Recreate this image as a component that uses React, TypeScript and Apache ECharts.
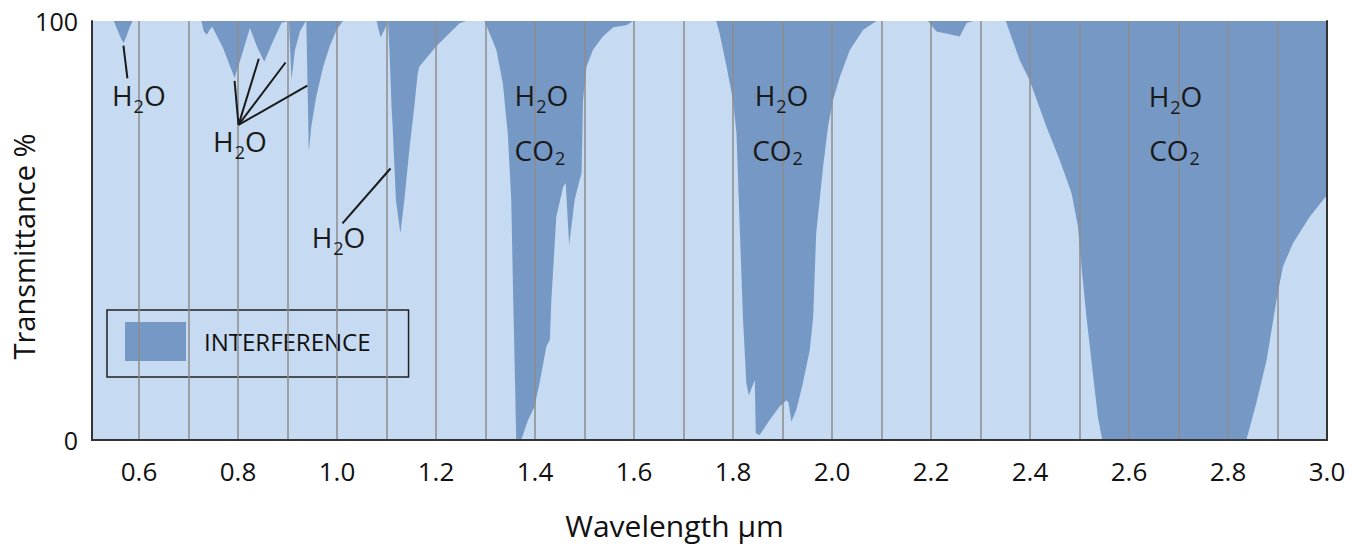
import React, { useEffect, useRef } from "react";
import * as echarts from "echarts";

// Wavelength range (μm) and transmittance range (%)
const X_MIN = 0.505;
const X_MAX = 3.0;

// Transmittance curve: [wavelength μm, transmittance %]
const transmittance: [number, number][] = [
  [0.505, 100], [0.549, 100], [0.556, 98], [0.563, 96], [0.569, 94.7], [0.575, 96.5], [0.581, 98.5], [0.587, 100],
  [0.726, 100], [0.731, 97.5], [0.737, 96.7], [0.743, 98], [0.748, 98.6], [0.770, 93.5], [0.793, 86.4], [0.808, 92],
  [0.824, 98.3], [0.838, 94], [0.853, 90.3], [0.870, 95], [0.888, 99.6], [0.903, 100], [0.908, 86], [0.915, 93],
  [0.925, 97.5], [0.935, 99.6], [0.938, 100], [0.943, 68.8], [0.948, 74.8], [0.958, 81.9], [0.972, 89.1],
  [0.985, 93.9], [0.999, 97.9], [1.012, 100],
  [1.080, 100], [1.084, 98], [1.088, 96.1], [1.094, 97.5], [1.100, 99], [1.103, 100], [1.106, 93], [1.110, 80],
  [1.113, 73.2], [1.119, 57.3], [1.128, 49.3], [1.136, 57.3], [1.146, 69.2], [1.156, 79.5], [1.163, 87.5],
  [1.166, 89.1], [1.200, 93.9], [1.247, 99.4], [1.260, 100],
  [1.298, 100], [1.322, 93.1], [1.335, 85.1], [1.345, 73.2], [1.352, 57.3], [1.356, 33.4], [1.359, 17.5],
  [1.362, 0], [1.372, 0], [1.386, 4.8], [1.399, 8], [1.409, 13.5], [1.423, 22.3], [1.430, 24], [1.433, 33.4],
  [1.443, 53.3], [1.457, 60.5], [1.462, 61.3], [1.469, 46.5], [1.480, 57.3], [1.490, 62], [1.494, 63.6],
  [1.497, 81.1], [1.504, 89.1], [1.517, 93.1], [1.537, 96.3], [1.558, 98.5], [1.585, 99], [1.598, 100],
  [1.766, 100], [1.773, 97], [1.787, 89.1], [1.800, 81.1], [1.807, 73.2], [1.814, 49.3], [1.820, 29.4],
  [1.827, 13.5], [1.832, 10.7], [1.844, 14.3], [1.846, 1.6], [1.854, 1.2], [1.874, 4.8], [1.894, 8],
  [1.908, 9.5], [1.912, 9], [1.918, 4.4], [1.928, 7.2], [1.941, 13.5], [1.955, 21.5], [1.962, 29.4],
  [1.968, 49.3], [1.982, 65.2], [1.992, 74.8], [2.002, 81.1], [2.016, 86.7], [2.036, 93.1], [2.063, 97.9],
  [2.090, 100],
  [2.194, 100], [2.211, 97.5], [2.235, 96.9], [2.258, 96.3], [2.272, 99.5], [2.285, 100],
  [2.351, 100], [2.379, 90.7], [2.399, 85.9], [2.433, 74.8], [2.460, 66.8], [2.484, 58.9], [2.497, 50.9],
  [2.504, 41.4], [2.514, 29.4], [2.527, 15.9], [2.537, 5.6], [2.546, 0], [2.837, 0], [2.857, 8.7],
  [2.878, 19.1], [2.898, 33.4], [2.911, 41.4], [2.931, 46.9], [2.965, 53.3], [3.0, 58.5],
];

// Full-height interference band (everything above the transmittance curve)
const interference: [number, number][] = [
  [0.505, 100],
  [3.0, 100],
];

// Tick labels and grid lines
const xTickLabels = [0.6, 0.8, 1.0, 1.2, 1.4, 1.6, 1.8, 2.0, 2.2, 2.4, 2.6, 2.8, 3.0];
const xGridLines = [
  0.6, 0.7, 0.8, 0.9, 1.0, 1.1, 1.2, 1.3, 1.4, 1.5, 1.6, 1.7, 1.8, 1.9, 2.0, 2.1, 2.2, 2.3, 2.4, 2.5, 2.6, 2.7,
  2.8, 2.9,
];
const yTickLabels = [0, 100];

// Absorber annotations: [label kind, wavelength, transmittance]
const annotationLabels: [string, number, number][] = [
  ["H2O", 0.5996, 80.7],
  ["H2O", 0.8038, 69.7],
  ["H2O", 1.003, 46.8],
  ["H2O", 1.413, 80.6],
  ["CO2", 1.41, 67.6],
  ["H2O", 1.898, 80.6],
  ["CO2", 1.89, 67.6],
  ["H2O", 2.694, 80.5],
  ["CO2", 2.692, 67.6],
];

// Leader lines: [from, to] in data coordinates
const leaderLines: [[number, number], [number, number]][] = [
  [[0.5685, 94.1], [0.5766, 86.3]],
  [[0.801, 75.2], [0.793, 85.7]],
  [[0.801, 75.2], [0.842, 91.0]],
  [[0.801, 75.2], [0.896, 90.1]],
  [[0.801, 75.2], [0.94, 84.6]],
  [[1.011, 51.7], [1.108, 64.8]],
];

const LIGHT = "#c6daf1";
const DARK = "#7598c5";
const FONT = "'Open Sans', 'Noto Sans', sans-serif";

export default function App() {
  const ref = useRef<HTMLDivElement>(null);

  useEffect(() => {
    if (!ref.current) return;
    const chart = echarts.init(ref.current, undefined, { renderer: "svg" });

    const rich = {
      m: { fontSize: 28, lineHeight: 42, verticalAlign: "top", color: "#1a1a1a", fontFamily: FONT },
      s: { fontSize: 18, lineHeight: 18, verticalAlign: "top", color: "#1a1a1a", fontFamily: FONT, padding: [16, 0, 0, 1] },
      c: { fontSize: 18, lineHeight: 18, verticalAlign: "top", color: "#1a1a1a", fontFamily: FONT, padding: [13, 0, 0, 1] },
    };

    const option: any = {
      animation: false,
      textStyle: { fontFamily: FONT },
      grid: { left: 92, right: 30, top: 21, bottom: 108, containLabel: false, outerBoundsMode: "none" },
      legend: {
        data: [{ name: "INTERFERENCE", icon: "rect" }],
        left: 107,
        top: 310,
        orient: "horizontal",
        itemWidth: 61,
        itemHeight: 39,
        padding: [12, 38, 16, 18],
        backgroundColor: LIGHT,
        borderColor: "#222",
        borderWidth: 1.5,
        borderRadius: 0,
        selectedMode: false,
        textStyle: { fontSize: 24, color: "#111", fontFamily: FONT, padding: [0, 0, 0, 13] },
      },
      xAxis: [
        {
          type: "value",
          min: X_MIN,
          max: X_MAX,
          z: 5,
          name: "Wavelength μm",
          nameLocation: "middle",
          nameGap: 70,
          nameMoveOverlap: false,
          nameTextStyle: { fontSize: 30, color: "#111", fontFamily: FONT, padding: [0, 70, 0, 0] },
          axisLine: { show: true, lineStyle: { color: "#333", width: 2 } },
          axisTick: { show: false },
          splitLine: { show: false },
          axisLabel: {
            customValues: xTickLabels,
            formatter: (v: number) => v.toFixed(1),
            fontSize: 26,
            color: "#111",
            margin: 18,
            showMinLabel: true,
            showMaxLabel: true,
          },
        },
        {
          type: "value",
          position: "top",
          min: X_MIN,
          max: X_MAX,
          z: 5,
          axisLine: { show: true, lineStyle: { color: "#333", width: 2 } },
          axisTick: { show: false },
          axisLabel: { show: false },
          splitLine: { show: false },
        },
      ],
      yAxis: [
        {
          type: "value",
          min: 0,
          max: 100,
          interval: 100,
          z: 5,
          name: "Transmittance %",
          nameLocation: "middle",
          nameGap: 54,
          nameMoveOverlap: false,
          nameTextStyle: { fontSize: 29, color: "#111", fontFamily: FONT, padding: [0, 32, 0, 0] },
          axisLine: { show: true, lineStyle: { color: "#333", width: 2 } },
          axisTick: { show: false },
          splitLine: { show: false },
          axisLabel: {
            customValues: yTickLabels,
            fontSize: 25,
            color: "#111",
            margin: 14,
          },
        },
        {
          type: "value",
          position: "right",
          min: 0,
          max: 100,
          z: 5,
          axisLine: { show: true, lineStyle: { color: "#333", width: 2 } },
          axisTick: { show: false },
          axisLabel: { show: false },
          splitLine: { show: false },
        },
      ],
      series: [
        {
          name: "INTERFERENCE",
          type: "line",
          data: interference,
          showSymbol: false,
          symbol: "none",
          silent: true,
          z: 1,
          color: DARK,
          itemStyle: { color: DARK },
          lineStyle: { width: 0, color: DARK },
          areaStyle: { color: DARK, opacity: 1 },
        },
        {
          name: "Transmittance",
          type: "line",
          data: transmittance,
          showSymbol: false,
          symbol: "none",
          silent: true,
          z: 2,
          color: LIGHT,
          lineStyle: { width: 0, color: LIGHT },
          areaStyle: { color: LIGHT, opacity: 1 },
          markLine: {
            silent: true,
            symbol: "none",
            label: { show: false },
            lineStyle: { color: "#8c8c8c", width: 1.5, type: "solid" },
            data: xGridLines.map((v) => ({ xAxis: v })),
          },
        },
        {
          name: "annotations",
          type: "line",
          data: [],
          z: 10,
          silent: true,
          markLine: {
            silent: true,
            symbol: "none",
            label: { show: false },
            lineStyle: { color: "#1a1a1a", width: 2, type: "solid" },
            data: leaderLines.map(([a, b]) => [{ coord: a }, { coord: b }]),
          },
          markPoint: {
            silent: true,
            symbol: "circle",
            symbolSize: 0,
            data: annotationLabels.map(([kind, x, y]) => ({
              coord: [x, y],
              label: {
                show: true,
                position: "inside",
                formatter: kind === "H2O" ? "{m|H}{s|2}{m|O}" : "{m|CO}{c|2}",
                rich,
              },
            })),
          },
        },
      ],
    };

    chart.setOption(option);
    return () => chart.dispose();
  }, []);

  return (
    <div
      ref={ref}
      style={{ position: "fixed", left: 0, top: 0, width: 1357, height: 548, background: "#fff" }}
    />
  );
}
